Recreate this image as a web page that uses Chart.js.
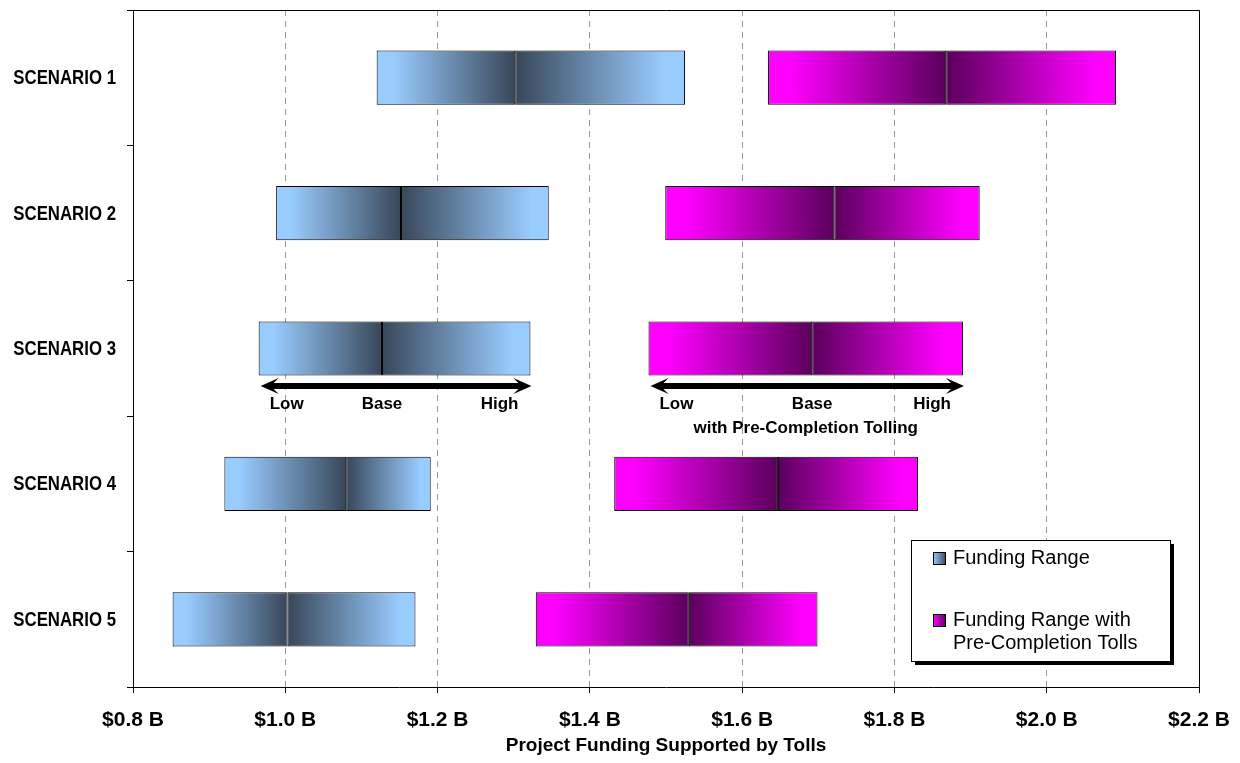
<!DOCTYPE html>
<html>
<head>
<meta charset="utf-8">
<script src="https://cdn.jsdelivr.net/npm/chart.js@4.4.1/dist/chart.umd.min.js"></script>
<style>
  html, body { margin: 0; padding: 0; background: #ffffff; }
  #wrap { width: 1240px; height: 763px; position: relative; }
</style>
</head>
<body>
<div id="wrap"><canvas id="chart" width="1240" height="763"></canvas></div>
<script>
// Scenario rows (top to bottom)
const scenarios = ['SCENARIO 1', 'SCENARIO 2', 'SCENARIO 3', 'SCENARIO 4', 'SCENARIO 5'];

// Funding range, $ billions: low / base / high
const rangeLow  = [1.120, 0.988, 0.965, 0.920, 0.852];
const rangeBase = [1.302, 1.152, 1.127, 1.080, 1.003];
const rangeHigh = [1.525, 1.346, 1.322, 1.191, 1.171];

// Funding range with pre-completion tolls, $ billions: low / base / high
const tollLow  = [1.634, 1.499, 1.477, 1.432, 1.329];
const tollBase = [1.868, 1.721, 1.692, 1.647, 1.530];
const tollHigh = [2.091, 1.912, 1.890, 1.831, 1.699];

// Horizontal axis ticks, $ billions
const axisTicks = [0.8, 1.0, 1.2, 1.4, 1.6, 1.8, 2.0, 2.2];

const seriesNames = ['Funding Range', 'Funding Range with Pre-Completion Tolls'];
const legendLines = [['Funding Range'], ['Funding Range with', 'Pre-Completion Tolls']];
const keyLabels = ['Low', 'Base', 'High'];
const keyNote = 'with Pre-Completion Tolling';
const keyRow = 2; // the row that carries the Low / Base / High key
const axisTitle = 'Project Funding Supported by Tolls';

const SANS = "'Liberation Sans', Arial, Helvetica, sans-serif";

const palette = {
  range: { light: '#99CCFF', dark: '#384759' },
  toll:  { light: '#FF00FF', dark: '#5A005C' }
};

// Gradient running from the light colour at the outer edge to the dark colour at the base value
function segmentFill(colors, lightAtStart) {
  return (c) => {
    const chart = c.chart;
    const xs = chart.scales && chart.scales.x;
    if (!chart.chartArea || !xs || c.type !== 'data' || !Array.isArray(c.raw)) return colors.light;
    const a = xs.getPixelForValue(c.raw[0]);
    const b = xs.getPixelForValue(c.raw[1]);
    const g = chart.ctx.createLinearGradient(a, 0, b, 0);
    if (lightAtStart) {
      g.addColorStop(0, colors.light);
      g.addColorStop(0.12, colors.light);
      g.addColorStop(1, colors.dark);
    } else {
      g.addColorStop(0, colors.dark);
      g.addColorStop(0.88, colors.light);
      g.addColorStop(1, colors.light);
    }
    return g;
  };
}

function pairs(a, b) { return a.map((v, i) => [v, b[i]]); }

function segment(label, data, colors, lightAtStart) {
  return {
    label: label,
    data: data,
    backgroundColor: segmentFill(colors, lightAtStart),
    borderColor: '#000000',
    borderWidth: 1,
    borderSkipped: false,
    grouped: false,
    barPercentage: 0.4,
    categoryPercentage: 1.0
  };
}

// Plot frame (top and right edges)
const framePlugin = {
  id: 'plotFrame',
  afterDraw(chart) {
    const { ctx, chartArea: a } = chart;
    ctx.save();
    ctx.strokeStyle = '#000000';
    ctx.lineWidth = 1;
    ctx.beginPath();
    ctx.moveTo(Math.round(a.left) + 0.5, Math.round(a.top) + 0.5);
    ctx.lineTo(Math.round(a.right) + 0.5, Math.round(a.top) + 0.5);
    ctx.lineTo(Math.round(a.right) + 0.5, Math.round(a.bottom) + 0.5);
    ctx.stroke();
    ctx.restore();
  }
};

// Condensed scenario names beside the vertical axis
const rowLabelPlugin = {
  id: 'rowLabels',
  afterDraw(chart) {
    const { ctx } = chart;
    const ys = chart.scales.y;
    const rightEdge = ys.right - 17;
    ctx.save();
    ctx.fillStyle = '#000000';
    ctx.font = 'bold 20px ' + SANS;
    ctx.textAlign = 'right';
    ctx.textBaseline = 'middle';
    scenarios.forEach((name, i) => {
      const y = ys.getPixelForValue(i);
      ctx.save();
      ctx.translate(rightEdge, y + 1);
      ctx.scale(0.84, 1);
      ctx.fillText(name, 0, 0);
      ctx.restore();
    });
    ctx.restore();
  }
};

function drawDoubleArrow(ctx, x0, x1, y) {
  const headLen = 18, notch = 13, half = 8, shaft = 6;
  ctx.beginPath();
  ctx.moveTo(x0, y);
  ctx.lineTo(x0 + headLen, y - half);
  ctx.lineTo(x0 + notch, y - shaft / 2);
  ctx.lineTo(x1 - notch, y - shaft / 2);
  ctx.lineTo(x1 - headLen, y - half);
  ctx.lineTo(x1, y);
  ctx.lineTo(x1 - headLen, y + half);
  ctx.lineTo(x1 - notch, y + shaft / 2);
  ctx.lineTo(x0 + notch, y + shaft / 2);
  ctx.lineTo(x0 + headLen, y + half);
  ctx.closePath();
  ctx.fill();
}

// Low / Base / High key under one row
const keyPlugin = {
  id: 'rangeKey',
  afterDatasetsDraw(chart) {
    const { ctx } = chart;
    const xs = chart.scales.x, ys = chart.scales.y;
    const yc = ys.getPixelForValue(keyRow);
    const sets = [
      { lo: rangeLow[keyRow], base: rangeBase[keyRow], hi: rangeHigh[keyRow], note: null },
      { lo: tollLow[keyRow], base: tollBase[keyRow], hi: tollHigh[keyRow], note: keyNote }
    ];
    ctx.save();
    ctx.fillStyle = '#000000';
    sets.forEach(s => {
      const xl = xs.getPixelForValue(s.lo);
      const xb = xs.getPixelForValue(s.base);
      const xh = xs.getPixelForValue(s.hi);
      drawDoubleArrow(ctx, xl + 2, xh + 1, yc + 37.5);
      ctx.font = 'bold 17px ' + SANS;
      ctx.textBaseline = 'middle';
      ctx.textAlign = 'left';
      ctx.fillText(keyLabels[0], xl + 11, yc + 56);
      ctx.textAlign = 'center';
      ctx.fillText(keyLabels[1], xb, yc + 56);
      ctx.textAlign = 'right';
      ctx.fillText(keyLabels[2], xh - 12, yc + 56);
      if (s.note) {
        ctx.textAlign = 'center';
        ctx.fillText(s.note, (xl + xh) / 2, yc + 79.5);
      }
    });
    ctx.restore();
  }
};

// Boxed legend with drop shadow inside the plot area
const legendPlugin = {
  id: 'boxLegend',
  afterDraw(chart) {
    const { ctx, chartArea: a } = chart;
    const w = 259, h = 121;
    const x = Math.round(a.right - 29 - w), y = Math.round(a.bottom - 26 - h);
    ctx.save();
    ctx.fillStyle = '#000000';
    ctx.fillRect(x + 4, y + 4, w, h);
    ctx.fillStyle = '#ffffff';
    ctx.fillRect(x, y, w, h);
    ctx.strokeStyle = '#000000';
    ctx.lineWidth = 1;
    ctx.strokeRect(x + 0.5, y + 0.5, w, h);

    const items = [palette.range, palette.toll];
    const rowsY = [y + 18, y + 80];
    items.forEach((col, i) => {
      const my = rowsY[i];
      const g = ctx.createLinearGradient(x + 22, 0, x + 35, 0);
      g.addColorStop(0, col.light);
      g.addColorStop(1, col.dark);
      ctx.fillStyle = g;
      ctx.fillRect(x + 22, my - 6, 13, 13);
      ctx.strokeStyle = '#000000';
      ctx.strokeRect(x + 22.5, my - 5.5, 12, 12);
      ctx.fillStyle = '#000000';
      ctx.font = '20px ' + SANS;
      ctx.textAlign = 'left';
      ctx.textBaseline = 'middle';
      legendLines[i].forEach((t, k) => ctx.fillText(t, x + 42, my + k * 23));
    });
    ctx.restore();
  }
};

const chart = new Chart(document.getElementById('chart'), {
  type: 'bar',
  data: {
    labels: scenarios,
    datasets: [
      segment(seriesNames[0], pairs(rangeLow, rangeBase), palette.range, true),
      segment(seriesNames[0], pairs(rangeBase, rangeHigh), palette.range, false),
      segment(seriesNames[1], pairs(tollLow, tollBase), palette.toll, true),
      segment(seriesNames[1], pairs(tollBase, tollHigh), palette.toll, false)
    ]
  },
  options: {
    indexAxis: 'y',
    responsive: false,
    animation: false,
    devicePixelRatio: 1,
    layout: { padding: { left: 0, top: 10, right: 41, bottom: 0 } },
    plugins: {
      legend: { display: false },
      tooltip: { enabled: false }
    },
    scales: {
      x: {
        type: 'linear',
        min: axisTicks[0],
        max: axisTicks[axisTicks.length - 1],
        afterBuildTicks(scale) { scale.ticks = axisTicks.map(v => ({ value: v })); },
        afterFit(scale) {
          scale.height = 76;
          scale.paddingLeft = 0;
          scale.paddingRight = 0;
        },
        ticks: {
          callback: v => '$' + Number(v).toFixed(1) + ' B',
          font: { family: SANS, size: 21, weight: 'bold' },
          color: '#000000',
          padding: 15,
          maxRotation: 0,
          autoSkip: false
        },
        grid: {
          color: '#9a9a9a',
          lineWidth: 1,
          tickColor: '#000000',
          tickLength: 6,
          tickBorderDash: [],
          drawTicks: true
        },
        border: { display: true, color: '#000000', width: 1, dash: [6, 5] },
        title: {
          display: true,
          text: axisTitle,
          font: { family: SANS, size: 19, weight: 'bold' },
          color: '#000000',
          padding: { top: 0, bottom: 6 }
        }
      },
      y: {
        type: 'category',
        afterFit(scale) {
          scale.width = 133;
          scale.paddingTop = 0;
          scale.paddingBottom = 0;
        },
        ticks: { display: false },
        grid: {
          offset: true,
          drawOnChartArea: false,
          drawTicks: true,
          tickLength: 6,
          tickColor: '#000000',
          color: '#000000'
        },
        border: { display: true, color: '#000000', width: 1 }
      }
    }
  },
  plugins: [framePlugin, keyPlugin, legendPlugin, rowLabelPlugin]
});
</script>
</body>
</html>
